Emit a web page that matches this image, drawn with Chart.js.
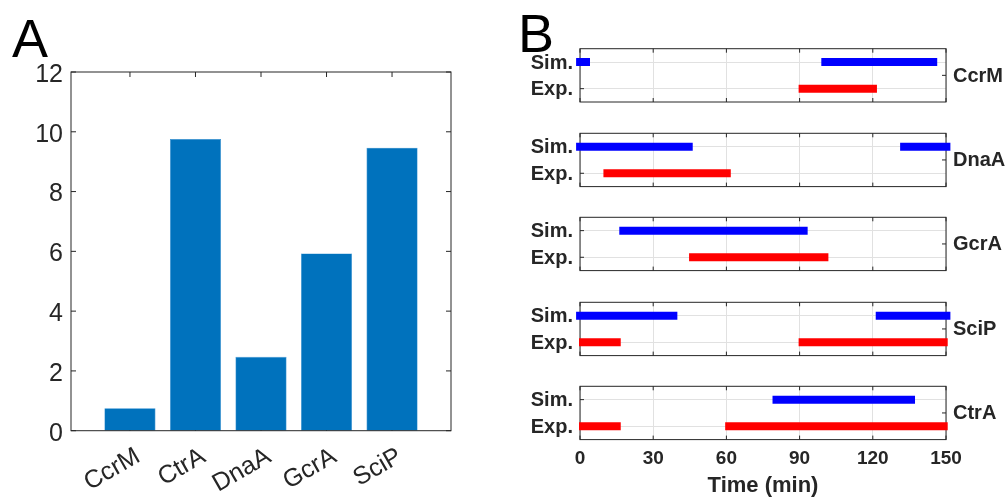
<!DOCTYPE html>
<html><head><meta charset="utf-8">
<script src="https://cdn.jsdelivr.net/npm/chart.js@4.4.0/dist/chart.umd.min.js"></script>
<style>
html,body{margin:0;padding:0;background:#fff;width:1006px;height:499px;overflow:hidden;position:relative;}
canvas{position:absolute;}
.lbl{position:absolute;font-family:'Liberation Sans',Arial,sans-serif;font-size:54px;line-height:54px;color:#000;z-index:5;}
</style></head><body>
<canvas id="a" width="470" height="499" style="left:0;top:0"></canvas>
<div class="lbl" style="left:12px;top:11px">A</div>
<div class="lbl" style="left:518px;top:6px">B</div>
<script>
// ---------- data ----------
const barCategories = ['CcrM', 'CtrA', 'DnaA', 'GcrA', 'SciP'];
const barValues = [0.75, 9.76, 2.47, 5.93, 9.47];
const barYTicks = [0, 2, 4, 6, 8, 10, 12];

const timelineProteins = ['CcrM', 'DnaA', 'GcrA', 'SciP', 'CtrA'];
const rowLabels = ['Exp.', 'Sim.'];          // y = 1, y = 2
const timeTicks = [0, 30, 60, 90, 120, 150];
const simSegments = [
  [[-1.6, 4.1], [98.9, 146.4]],
  [[-1.6, 46.2], [131.2, 151.8]],
  [[16.1, 93.3]],
  [[-1.6, 39.9], [121.2, 151.8]],
  [[78.9, 137.3]]
];
const expSegments = [
  [[89.6, 121.7]],
  [[9.6, 61.8]],
  [[44.7, 101.8]],
  [[-0.4, 16.7], [89.6, 150.7]],
  [[-0.4, 16.7], [59.5, 150.7]]
];

// ---------- helpers ----------
const FONT = "'Liberation Sans', Arial, Helvetica, sans-serif";
const AX = '#262626';

function framePlugin(cfg) {
  return {
    id: 'frame',
    beforeDatasetsDraw(chart) {
      const {ctx, chartArea: a, scales} = chart;
      ctx.save();
      ctx.strokeStyle = AX; ctx.lineWidth = 1;
      ctx.beginPath();
      const L = cfg.len;
      cfg.xTicks.forEach(v => {
        const px = scales.x.getPixelForValue(v);
        ctx.moveTo(px, a.top); ctx.lineTo(px, a.top + L);
        ctx.moveTo(px, a.bottom); ctx.lineTo(px, a.bottom - L);
      });
      cfg.leftTicks.forEach(v => {
        const py = scales.y.getPixelForValue(v);
        ctx.moveTo(a.left, py); ctx.lineTo(a.left + L, py);
      });
      cfg.rightTicks.forEach(v => {
        const py = scales.y.getPixelForValue(v);
        ctx.moveTo(a.right, py); ctx.lineTo(a.right - L, py);
      });
      ctx.stroke();
      if (!cfg.frameOnTop) ctx.strokeRect(a.left, a.top, a.right - a.left, a.bottom - a.top);
      ctx.restore();
    },
    afterDatasetsDraw(chart) {
      if (!cfg.frameOnTop) return;
      const {ctx, chartArea: a} = chart;
      ctx.save();
      ctx.strokeStyle = AX; ctx.lineWidth = 1;
      ctx.strokeRect(a.left, a.top, a.right - a.left, a.bottom - a.top);
      ctx.restore();
    }
  };
}
function noPad(s) { s.paddingTop = 0; s.paddingBottom = 0; s.paddingLeft = 0; s.paddingRight = 0; }

// ---------- Panel A ----------
new Chart(document.getElementById('a'), {
  type: 'bar',
  data: {
    datasets: [{
      data: barValues.map((v, i) => ({x: i + 1, y: v})),
      backgroundColor: '#0072BD',
      borderColor: '#2a8ad0',
      borderWidth: 0.6,
      barPercentage: 0.78,
      categoryPercentage: 1
    }]
  },
  options: {
    responsive: false, animation: false, events: [],
    layout: {padding: {top: 72, right: 19, left: 0, bottom: 0}},
    plugins: {legend: {display: false}, tooltip: {enabled: false}},
    scales: {
      x: {
        type: 'linear', min: 0.1, max: 5.9, offset: false,
        afterBuildTicks: s => { s.ticks = barCategories.map((c, i) => ({value: i + 1})); },
        afterFit: s => { s.height = 68.3; noPad(s); },
        grid: {display: false, drawTicks: false, offset: false},
        border: {display: false},
        ticks: {
          callback: v => barCategories[v - 1],
          minRotation: 30, maxRotation: 30, autoSkip: false,
          padding: 11, labelOffset: 8,
          color: AX, font: {family: FONT, size: 25}
        }
      },
      y: {
        min: 0, max: 12,
        afterBuildTicks: s => { s.ticks = barYTicks.map(v => ({value: v})); },
        afterFit: s => { s.width = 71; noPad(s); },
        grid: {display: false, drawTicks: false},
        border: {display: false},
        ticks: {padding: 8, labelOffset: 3, color: AX, font: {family: FONT, size: 25}}
      }
    }
  },
  plugins: [framePlugin({len: 5, xTicks: [1, 2, 3, 4, 5], leftTicks: barYTicks, rightTicks: barYTicks, frameOnTop: true})]
});

// ---------- Panel B ----------
const panelTops = [48.7, 133.3, 217.3, 302.3, 386.3];
const panelH = 53.3;
for (let p = 0; p < 5; p++) {
  const last = p === 4;
  const cTop = Math.floor(panelTops[p]) - 8;
  const cH = last ? 499 - cTop : 70;
  const padTop = panelTops[p] - cTop;
  const padBottom = last ? 0 : cH - padTop - panelH;
  const cv = document.createElement('canvas');
  cv.width = 486; cv.height = cH;
  cv.style.left = '520px'; cv.style.top = cTop + 'px';
  document.body.appendChild(cv);

  const datasets = [];
  simSegments[p].forEach(seg => datasets.push({
    data: [{x: seg[0], y: 2}, {x: seg[1], y: 2}],
    borderColor: '#0000FF', borderWidth: 8, borderCapStyle: 'butt', pointRadius: 0, clip: false
  }));
  expSegments[p].forEach(seg => datasets.push({
    data: [{x: seg[0], y: 1}, {x: seg[1], y: 1}],
    borderColor: '#FF0000', borderWidth: 8, borderCapStyle: 'butt', pointRadius: 0, clip: false
  }));

  new Chart(cv, {
    type: 'line',
    data: {datasets},
    options: {
      responsive: false, animation: false, events: [],
      layout: {padding: {top: padTop, bottom: padBottom, left: 0, right: 0}},
      plugins: {legend: {display: false}, tooltip: {enabled: false}},
      scales: {
        x: {
          type: 'linear', min: 0, max: 150,
          afterBuildTicks: s => { s.ticks = timeTicks.map(v => ({value: v})); },
          afterFit: s => { s.height = last ? cH - padTop - panelH : 0; noPad(s); },
          grid: {color: '#e1e1e1', lineWidth: 1, drawTicks: false},
          border: {display: false},
          ticks: {display: last, padding: 8, color: AX, font: {family: FONT, size: 19, weight: 'bold'}},
          title: {display: last, text: 'Time (min)', color: AX, padding: {top: 0, bottom: 0},
                  font: {family: FONT, size: 22, weight: 'bold'}}
        },
        y: {
          type: 'linear', min: 0.5, max: 2.5, position: 'left',
          afterBuildTicks: s => { s.ticks = [1, 2].map(v => ({value: v})); },
          afterFit: s => { s.width = 60; noPad(s); },
          grid: {color: '#e1e1e1', lineWidth: 1, drawTicks: false},
          border: {display: false},
          ticks: {callback: v => rowLabels[v - 1], padding: 7, labelOffset: 1, color: AX, font: {family: FONT, size: 20, weight: 'bold'}}
        },
        y2: {
          type: 'linear', min: 0.5, max: 2.5, position: 'right',
          afterBuildTicks: s => { s.ticks = [{value: 1.5}]; },
          afterFit: s => { s.width = 60; noPad(s); },
          grid: {display: false, drawTicks: false, drawOnChartArea: false},
          border: {display: false},
          ticks: {callback: () => timelineProteins[p], padding: 7, labelOffset: 1, color: AX, font: {family: FONT, size: 20, weight: 'bold'}}
        }
      }
    },
    plugins: [framePlugin({len: 4, xTicks: timeTicks, leftTicks: [1, 2], rightTicks: [1.5], frameOnTop: false})]
  });
}
</script>
</body></html>
